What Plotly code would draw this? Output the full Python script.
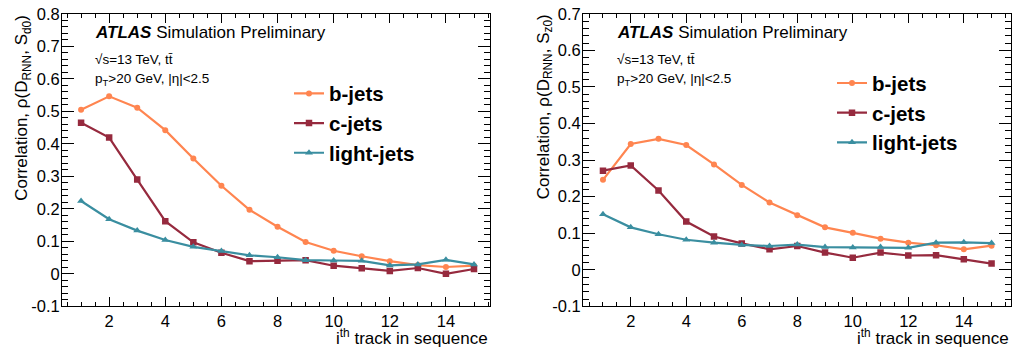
import plotly.graph_objects as go

tracks = list(range(1, 16))

# Left panel: correlation with S_d0
b_d0 = [0.505, 0.546, 0.511, 0.442, 0.355, 0.271, 0.197, 0.145, 0.098, 0.071, 0.054, 0.039, 0.027, 0.021, 0.025]
c_d0 = [0.465, 0.419, 0.290, 0.162, 0.097, 0.065, 0.039, 0.040, 0.042, 0.025, 0.017, 0.009, 0.018, 0.000, 0.015]
l_d0 = [0.224, 0.168, 0.133, 0.104, 0.083, 0.070, 0.057, 0.051, 0.042, 0.041, 0.040, 0.026, 0.029, 0.043, 0.029]

# Right panel: correlation with S_z0
b_z0 = [0.246, 0.344, 0.358, 0.341, 0.288, 0.232, 0.184, 0.149, 0.116, 0.101, 0.085, 0.074, 0.067, 0.056, 0.066]
c_z0 = [0.271, 0.285, 0.217, 0.132, 0.091, 0.072, 0.056, 0.065, 0.047, 0.033, 0.047, 0.039, 0.040, 0.029, 0.017]
l_z0 = [0.152, 0.116, 0.097, 0.082, 0.074, 0.068, 0.065, 0.069, 0.062, 0.061, 0.062, 0.060, 0.074, 0.075, 0.073]

series_names = ["b-jets", "c-jets", "light-jets"]
x_ticks = [2, 4, 6, 8, 10, 12, 14]
y_ticks_left = [-0.1, 0, 0.1, 0.2, 0.3, 0.4, 0.5, 0.6, 0.7, 0.8]
y_ticks_right = [-0.1, 0, 0.1, 0.2, 0.3, 0.4, 0.5, 0.6, 0.7]

def fmt(v):
    return "0" if v == 0 else ("%g" % v)

COL = {"b-jets": "#FF8550", "c-jets": "#962A3E", "light-jets": "#3A8EA0"}
SYM = {"b-jets": "circle", "c-jets": "square", "light-jets": "triangle-up"}
MSZ = {"b-jets": 6, "c-jets": 6.5, "light-jets": 7}
FONT = "Liberation Sans, Arial, Helvetica, sans-serif"

fig = go.Figure()
for name, ys in zip(series_names, [b_d0, c_d0, l_d0]):
    fig.add_trace(go.Scatter(x=tracks, y=ys, mode="lines+markers", name=name,
                             line=dict(color=COL[name], width=2.2),
                             marker=dict(symbol=SYM[name], size=MSZ[name], color=COL[name]),
                             xaxis="x", yaxis="y", legend="legend"))
for name, ys in zip(series_names, [b_z0, c_z0, l_z0]):
    fig.add_trace(go.Scatter(x=tracks, y=ys, mode="lines+markers", name=name,
                             line=dict(color=COL[name], width=2.2),
                             marker=dict(symbol=SYM[name], size=MSZ[name], color=COL[name]),
                             xaxis="x2", yaxis="y2", legend="legend2"))

W, H = 1013, 360
def px(x):
    return x / W
def py(y):
    return 1 - y / H

ydom = [py(313), py(5)]
xdom1 = [px(62), px(490)]
xdom2 = [px(583), px(1011)]

common_x = dict(showline=True, linecolor="black", linewidth=1, mirror="allticks",
                ticks="inside", ticklen=9, tickwidth=1, tickcolor="black",
                showgrid=False, zeroline=False, tickvals=x_ticks,
                ticktext=[str(t) for t in x_ticks], ticklabeloverflow="allow",
                tickfont=dict(family=FONT, size=16.5, color="black"),
                minor=dict(ticks="inside", ticklen=4.5, tickwidth=1, tickcolor="black",
                           dtick=0.5, tick0=0, showgrid=False))
common_y = dict(showline=True, linecolor="black", linewidth=1, mirror="allticks",
                ticks="inside", ticklen=12, tickwidth=1, tickcolor="black",
                showgrid=False, zeroline=False, ticklabeloverflow="allow",
                ticklabelstandoff=-2,
                tickfont=dict(family=FONT, size=16.5, color="black"),
                minor=dict(ticks="inside", ticklen=6, tickwidth=1, tickcolor="black",
                           dtick=0.02, tick0=0, showgrid=False))

fig.update_layout(
    width=W, height=H, autosize=False, margin=dict(l=0, r=0, t=0, b=0, pad=0),
    paper_bgcolor="white", plot_bgcolor="white",
    xaxis=dict(domain=xdom1, range=[0.32, 15.57], anchor="y", **common_x),
    yaxis=dict(domain=ydom, range=[-0.1, 0.8], anchor="x",
               tickvals=y_ticks_left, ticktext=[fmt(v) for v in y_ticks_left], **common_y),
    xaxis2=dict(domain=xdom2, range=[0.28, 15.7], anchor="y2", **common_x),
    yaxis2=dict(domain=ydom, range=[-0.1, 0.7], anchor="x2",
                tickvals=y_ticks_right, ticktext=[fmt(v) for v in y_ticks_right], **common_y),
    legend=dict(x=px(289), y=py(68), xanchor="left", yanchor="top",
                font=dict(family=FONT, size=20.5, color="black", weight="bold"),
                bgcolor="rgba(0,0,0,0)", itemwidth=30, tracegroupgap=0),
    legend2=dict(x=px(832), y=py(57), xanchor="left", yanchor="top",
                 font=dict(family=FONT, size=20.5, color="black", weight="bold"),
                 bgcolor="rgba(0,0,0,0)", itemwidth=30, tracegroupgap=0),
    showlegend=True,
)

ann = []
for (x0, xr, xt, ylab) in [(93, 490, 10, "Correlation, ρ(D<sub>RNN</sub>, S<sub>d0</sub>)"),
                           (615, 1011, 532, "Correlation, ρ(D<sub>RNN</sub>, S<sub>z0</sub>)")]:
    ann.append(dict(x=px(x0), y=py(25), xref="paper", yref="paper", xanchor="left", yanchor="middle",
                    showarrow=False,
                    text="<b><i>ATLAS</i></b> Simulation Preliminary",
                    font=dict(family=FONT, size=17, color="black")))
    ann.append(dict(x=px(x0), y=py(53), xref="paper", yref="paper", xanchor="left", yanchor="middle",
                    showarrow=False, text="√s=13 TeV, tt\u0304",
                    font=dict(family=FONT, size=13.5, color="black")))
    ann.append(dict(x=px(x0), y=py(74), xref="paper", yref="paper", xanchor="left", yanchor="middle",
                    showarrow=False, text="p<sub>T</sub>>20 GeV, |η|<2.5",
                    font=dict(family=FONT, size=13.5, color="black")))
    ann.append(dict(x=px(xr), y=py(359), xref="paper", yref="paper", xanchor="right", yanchor="bottom",
                    showarrow=False, text="i<sup>th</sup> track in sequence",
                    font=dict(family=FONT, size=17, color="black")))
    ann.append(dict(x=px(xt), y=py(4), xref="paper", yref="paper",
                    xanchor="left", yanchor="top", textangle=-90,
                    showarrow=False, text=ylab,
                    font=dict(family=FONT, size=17, color="black")))
fig.update_layout(annotations=ann)

fig.write_html("out.html", config={"responsive": False})
